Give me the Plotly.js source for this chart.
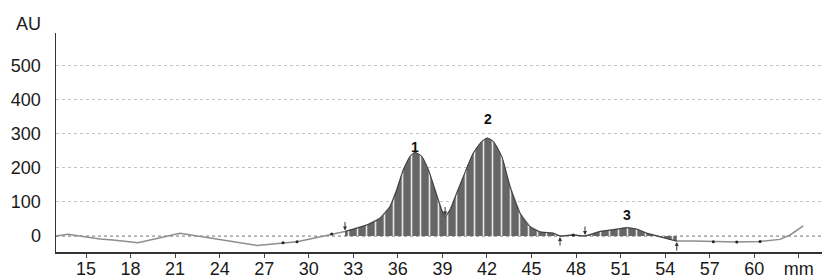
<!DOCTYPE html>
<html>
<head>
<meta charset="utf-8">
<script src="https://cdn.plot.ly/plotly-3.0.1.min.js"></script>
<style>html,body{margin:0;padding:0;background:#fff;}#chart{width:825px;height:280px;}</style>
</head>
<body>
<div id="chart"></div>
<script>
// Densitometry profile (position in mm, intensity in AU)
const positionMm = [12.98, 13.79, 15.94, 16.82, 18.50, 21.33, 26.52, 28.27, 29.21, 30.08, 31.55, 32.44,
  33.90, 34.80, 35.47, 35.92, 36.37, 36.82, 37.15, 37.61, 38.05, 38.50, 38.95, 39.18, 39.51, 39.96,
  40.41, 41.08, 41.65, 42.02, 42.43, 42.99, 43.55, 44.23, 44.90, 45.57, 46.47, 46.92, 47.81, 48.60,
  49.61, 50.51, 51.41, 52.08, 52.76, 53.65, 54.78, 55.90, 57.24, 58.82, 60.39, 61.73, 62.41, 63.30];
const intensityAU = [0, 5, -9, -12, -20, 8, -28, -20, -17, -9, 6, 13,
  32, 52, 86, 135, 194, 233, 245, 233, 194, 135, 76, 57, 76, 125,
  174, 243, 277, 287, 277, 233, 145, 66, 27, 12, 8, 0, 3, 0,
  13, 18, 24, 20, 8, -2, -15, -15, -17, -18, -16, -10, 3, 30];

const integrationStartMm = 32.44;
const integrationEndMm = 54.78;

const peakNames = ['1', '2', '3'];
const peakLabelMm = [37.15, 42.1, 51.4];
const peakLabelAU = [262, 343, 62];

const boundaryMm = [32.44, 39.18, 46.92, 48.60, 54.78];
const boundaryDir = ['down', 'down', 'up', 'down', 'up'];

const dotMm = [28.27, 29.21, 31.55, 47.81, 57.24, 58.82, 60.39];

const xTickVals = [15, 18, 21, 24, 27, 30, 33, 36, 39, 42, 45, 48, 51, 54, 57, 60, 63];
const xTickText = ['15', '18', '21', '24', '27', '30', '33', '36', '39', '42', '45', '48', '51', '54', '57', '60', 'mm'];
const yTickVals = [0, 100, 200, 300, 400, 500];

// ---- derived
const peakX = [], peakY = [];
positionMm.forEach((x, i) => { if (x >= integrationStartMm && x <= integrationEndMm) { peakX.push(x); peakY.push(intensityAU[i]); } });
const idxOf = v => positionMm.findIndex(x => Math.abs(x - v) < 1e-6);
const dotY = dotMm.map(v => intensityAU[idxOf(v)]);

const font = 'Liberation Sans, Arial, sans-serif';

const traces = [
  {
    x: positionMm, y: intensityAU, type: 'scatter', mode: 'lines',
    line: {color: '#8e8e8e', width: 1.5}, hoverinfo: 'skip', showlegend: false
  },
  {
    x: peakX, y: peakY, type: 'scatter', mode: 'lines', fill: 'tozeroy',
    fillcolor: '#666666',
    fillpattern: {shape: '|', bgcolor: '#666666', fgcolor: '#e6e6e6', size: 9, solidity: 0.18, fillmode: 'replace'},
    line: {color: '#3a3a3a', width: 1, shape: 'spline', smoothing: 0.8},
    hoverinfo: 'skip', showlegend: false
  },
  {
    x: dotMm, y: dotY, type: 'scatter', mode: 'markers',
    marker: {color: '#222', size: 3}, hoverinfo: 'skip', showlegend: false
  }
];

const annotations = [
  {xref: 'paper', yref: 'paper', x: -0.017, y: 1.0, xanchor: 'right', yanchor: 'bottom', yshift: -3,
   text: 'AU', showarrow: false, font: {family: font, size: 18, color: '#1a1a1a'}}
];
peakNames.forEach((t, i) => annotations.push({
  x: peakLabelMm[i], y: peakLabelAU[i], text: '<b>' + t + '</b>', showarrow: false,
  font: {family: font, size: 14, color: '#111'}
}));
boundaryMm.forEach((v, i) => {
  const yv = intensityAU[idxOf(v)];
  const down = boundaryDir[i] === 'down';
  annotations.push({
    x: v, y: yv, text: '', showarrow: true, arrowhead: 2, arrowsize: 0.8, arrowwidth: 1,
    arrowcolor: '#333', ax: 0, ay: down ? -11 : 11, standoff: 1
  });
});

const layout = {
  width: 825, height: 280,
  margin: {l: 56, r: 3, t: 33, b: 28, pad: 0},
  paper_bgcolor: '#fff', plot_bgcolor: '#fff',
  showlegend: false,
  font: {family: font, size: 18, color: '#1a1a1a'},
  xaxis: {
    range: [12.98, 64.56], tickmode: 'array', tickvals: xTickVals, ticktext: xTickText,
    ticks: 'outside', ticklen: 4, tickwidth: 1, tickcolor: '#444',
    showline: true, linecolor: '#333', linewidth: 1.5, showgrid: false, zeroline: false,
    ticklabelstandoff: -4,
    tickfont: {family: font, size: 18, color: '#1a1a1a'}
  },
  yaxis: {
    range: [-47, 595.8], tickmode: 'array', tickvals: yTickVals,
    showgrid: true, gridcolor: '#c4c4c4', griddash: 'dot', gridwidth: 1,
    zeroline: false, showline: true, linecolor: '#333', linewidth: 1.5, ticks: '',
    ticklabelstandoff: 10,
    tickfont: {family: font, size: 18, color: '#1a1a1a'}
  },
  shapes: [
    {type: 'line', xref: 'paper', x0: 0, x1: 1, yref: 'y', y0: 0, y1: 0, layer: 'below',
     line: {color: '#555', width: 1, dash: 'dot'}}
  ],
  annotations: annotations
};

Plotly.newPlot('chart', traces, layout, {staticPlot: true, displayModeBar: false});
</script>
</body>
</html>
